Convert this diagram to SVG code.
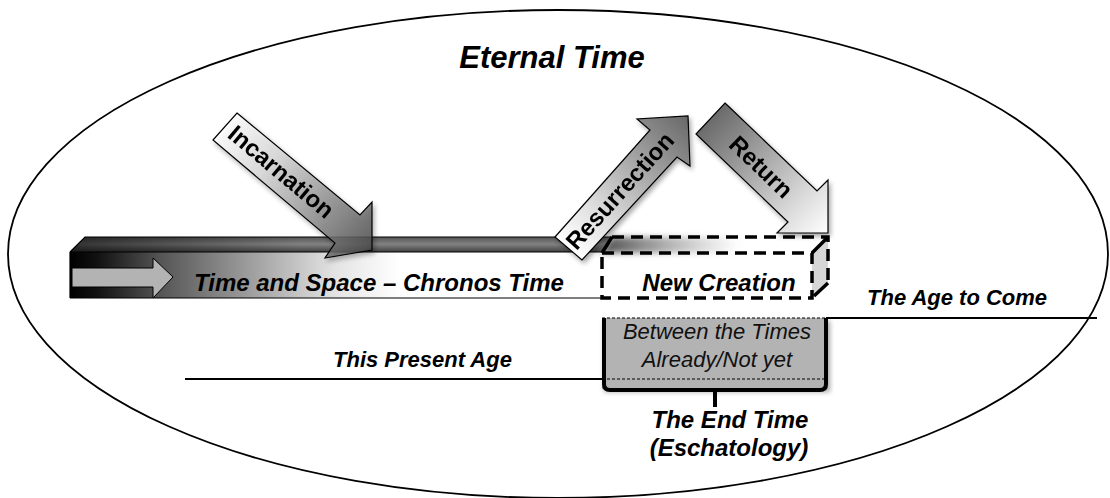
<svg xmlns="http://www.w3.org/2000/svg" width="1110" height="498" viewBox="0 0 1110 498">
  <defs>
    <style>
      .lbl { font-family: "Liberation Sans", Arial, sans-serif; font-weight: bold; font-style: italic; fill: #000; }
      .arrowtxt { font-family: "Liberation Sans", Arial, sans-serif; font-weight: bold; font-size: 24px; fill: #000; text-anchor: middle; }
      .thin { font-family: "Liberation Sans", Arial, sans-serif; font-style: italic; font-size: 22px; fill: #111; text-anchor: middle; }
      .edge { stroke: #000; stroke-width: 1.2; stroke-linejoin: miter; }
      .dash { fill: none; stroke: #000; stroke-width: 3.5; stroke-dasharray: 12 7; }
      .rule { fill: none; stroke: #000; stroke-width: 1.8; }
    </style>
    <linearGradient id="gIncarnation" gradientUnits="userSpaceOnUse" x1="225" y1="126" x2="372" y2="250">
      <stop offset="0" stop-color="#ffffff"/>
      <stop offset="0.3" stop-color="#d8d8d8"/>
      <stop offset="1" stop-color="#4a4a4a"/>
    </linearGradient>
    <linearGradient id="gResurrection" gradientUnits="userSpaceOnUse" x1="568" y1="248" x2="688" y2="116">
      <stop offset="0" stop-color="#ffffff"/>
      <stop offset="0.25" stop-color="#e0e0e0"/>
      <stop offset="1" stop-color="#686868"/>
    </linearGradient>
    <linearGradient id="gReturn" gradientUnits="userSpaceOnUse" x1="710" y1="118" x2="828" y2="233">
      <stop offset="0" stop-color="#6a6a6a"/>
      <stop offset="0.75" stop-color="#dcdcdc"/>
      <stop offset="1" stop-color="#ffffff"/>
    </linearGradient>
    <linearGradient id="gFront" gradientUnits="userSpaceOnUse" x1="70" y1="0" x2="602" y2="0">
      <stop offset="0" stop-color="#000"/>
      <stop offset="0.05" stop-color="#111"/>
      <stop offset="0.17" stop-color="#555"/>
      <stop offset="0.33" stop-color="#9a9a9a"/>
      <stop offset="0.5" stop-color="#e4e4e4"/>
      <stop offset="0.62" stop-color="#ffffff"/>
      <stop offset="1" stop-color="#ffffff"/>
    </linearGradient>
    <linearGradient id="gTop" gradientUnits="userSpaceOnUse" x1="0" y1="237" x2="0" y2="253">
      <stop offset="0" stop-color="#555"/>
      <stop offset="0.45" stop-color="#828282"/>
      <stop offset="1" stop-color="#383838"/>
    </linearGradient>
    <linearGradient id="gTopFadeIn" gradientUnits="userSpaceOnUse" x1="70" y1="0" x2="300" y2="0">
      <stop offset="0" stop-color="#000" stop-opacity="0.6"/>
      <stop offset="1" stop-color="#000" stop-opacity="0"/>
    </linearGradient>
    <linearGradient id="gFade" gradientUnits="userSpaceOnUse" x1="600" y1="0" x2="740" y2="0">
      <stop offset="0" stop-color="#4a4a4a" stop-opacity="1"/>
      <stop offset="1" stop-color="#8a8a8a" stop-opacity="0"/>
    </linearGradient>
    <filter id="soft" x="-20%" y="-50%" width="140%" height="200%">
      <feGaussianBlur stdDeviation="3"/>
    </filter>
    <filter id="shadow" x="-20%" y="-20%" width="150%" height="150%">
      <feGaussianBlur in="SourceAlpha" stdDeviation="2.5"/>
      <feOffset dx="2" dy="3" result="b"/>
      <feComponentTransfer><feFuncA type="linear" slope="0.35"/></feComponentTransfer>
      <feMerge><feMergeNode/><feMergeNode in="SourceGraphic"/></feMerge>
    </filter>
  </defs>

  <rect width="1110" height="498" fill="#fff"/>

  <!-- eternal time boundary -->
  <g id="eternal-time">
    <ellipse cx="558" cy="254" rx="550" ry="244" fill="none" stroke="#000" stroke-width="1.8"/>
    <text class="lbl" x="552" y="68" font-size="31" text-anchor="middle">Eternal Time</text>
  </g>

  <!-- chronos time bar -->
  <g id="chronos-bar">
    <polygon points="70,252 85,237 612,237 602,253" fill="url(#gTop)"/>
    <polygon points="70,252 85,237 300,237 300,253" fill="url(#gTopFadeIn)"/>
    <polyline points="70,252 85,237 612,237" fill="none" stroke="#000" stroke-width="1.2"/>
    <rect x="70" y="252" width="532" height="46" fill="url(#gFront)"/>
    <path d="M70,252 H602 M70,298 H602 M70,252 V298" fill="none" stroke="#000" stroke-width="1.2"/>
    <polygon points="72,268 153,268 153,258 173,277 153,298 153,287 72,287" fill="#b3b3b3" stroke="#000" stroke-width="1"/>
    <text class="lbl" x="194" y="291" font-size="24">Time and Space – Chronos Time</text>
  </g>

  <!-- new creation (dashed box) -->
  <g id="new-creation">
    <polygon points="600,253 612,237 745,237 735,253" fill="url(#gFade)" filter="url(#soft)"/>
    <polygon points="812,253 828,237 828,283 812,298" fill="#d6d6d6"/>
    <rect class="dash" x="602" y="253" width="210" height="45"/>
    <path class="dash" d="M612,237 H828 V283"/>
    <path d="M602,253 L612,237 M812,253 L828,237 M814,296 L828,283" fill="none" stroke="#000" stroke-width="3.5"/>
    <text class="lbl" x="719" y="291" font-size="24" text-anchor="middle">New Creation</text>
  </g>

  <!-- event arrows -->
  <g id="incarnation" filter="url(#shadow)">
    <polygon class="edge" points="237,113 360,215 372,202 372,250 325,258 335,243 213,140" fill="url(#gIncarnation)" fill-opacity="0.82"/>
    <text class="arrowtxt" transform="translate(281,172) rotate(40)" dy="8" font-size="25">Incarnation</text>
  </g>
  <g id="resurrection" filter="url(#shadow)">
    <polygon class="edge" points="555,237 650,130 637,119 688,116 690,166 677,157 582,260" fill="url(#gResurrection)"/>
    <text class="arrowtxt" transform="translate(620,191) rotate(-48)" dy="8" font-size="24">Resurrection</text>
  </g>
  <g id="return" filter="url(#shadow)">
    <polygon class="edge" points="725,103 817,191 828,180 828,233 777,233 788,222 696,134" fill="url(#gReturn)"/>
    <text class="arrowtxt" transform="translate(761,167) rotate(44)" dy="8" font-size="25">Return</text>
  </g>

  <!-- ages -->
  <g id="present-age">
    <path class="rule" d="M185,379 H604"/>
    <text class="lbl" x="333" y="367" font-size="22">This Present Age</text>
  </g>
  <g id="age-to-come">
    <path class="rule" d="M826,318 H1097"/>
    <text class="lbl" x="867" y="305" font-size="22">The Age to Come</text>
  </g>

  <!-- between the times / end time bracket -->
  <g id="between-times">
    <g filter="url(#shadow)">
      <rect x="602" y="318" width="226" height="71" fill="#b3b3b3"/>
    </g>
    <path d="M602,318 H828 M602,379 H828" fill="none" stroke="#000" stroke-width="1" stroke-dasharray="3 2"/>
    <path d="M604,318 V384 Q604,390 610,390 H820 Q826,390 826,384 V318" fill="none" stroke="#000" stroke-width="4"/>
    <path d="M715,390 V407" fill="none" stroke="#000" stroke-width="4"/>
    <text class="thin" x="717" y="339">Between the Times</text>
    <text class="thin" x="717" y="367">Already/Not yet</text>
  </g>
  <g id="end-time">
    <text class="lbl" x="730" y="428" font-size="24" text-anchor="middle">The End Time</text>
    <text class="lbl" x="729" y="456" font-size="24" text-anchor="middle">(Eschatology)</text>
  </g>
</svg>
